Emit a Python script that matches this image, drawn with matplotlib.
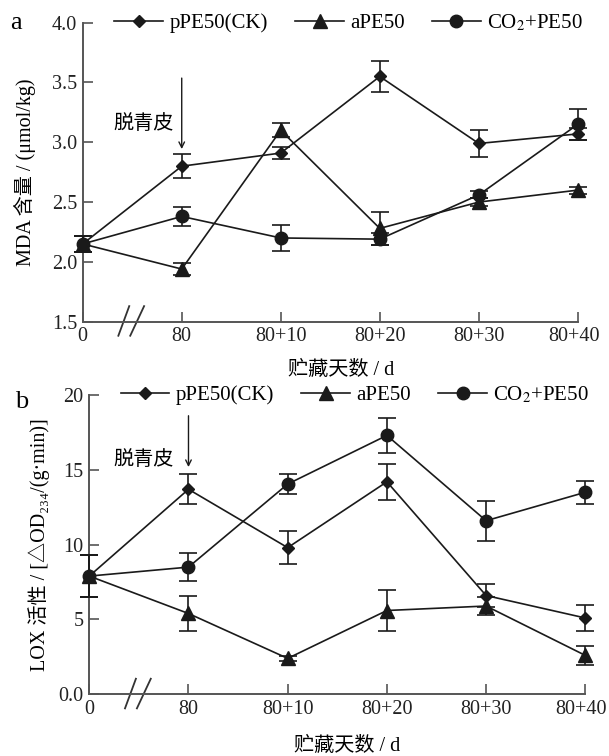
import matplotlib
matplotlib.use("Agg")
import matplotlib.pyplot as plt
import matplotlib.transforms as mtransforms

plt.rcParams['font.family'] = ['Liberation Serif', 'Noto Sans CJK SC', 'DejaVu Sans']
plt.rcParams['mathtext.fontset'] = 'stix'

days = ["0", "80", "80+10", "80+20", "80+30", "80+40"]
series_names = ["pPE50(CK)", "aPE50", "CO$_2$+PE50"]

# a: MDA content
mda_ck = [2.15, 2.80, 2.91, 3.55, 2.99, 3.07]
mda_ck_err = [0.07, 0.10, 0.05, 0.13, 0.11, 0.05]
mda_a = [2.15, 1.94, 3.10, 2.28, 2.50, 2.60]
mda_a_err = [0.07, 0.05, 0.06, 0.14, 0.03, 0.03]
mda_co2 = [2.15, 2.38, 2.20, 2.19, 2.56, 3.15]
mda_co2_err = [0.07, 0.08, 0.11, 0.05, 0.03, 0.13]

# b: LOX activity
lox_ck = [7.9, 13.7, 9.8, 14.2, 6.6, 5.1]
lox_ck_err = [1.4, 1.0, 1.1, 1.2, 0.75, 0.85]
lox_a = [7.9, 5.4, 2.4, 5.6, 5.9, 2.6]
lox_a_err = [1.4, 1.2, 0.15, 1.4, 0.6, 0.65]
lox_co2 = [7.9, 8.5, 14.05, 17.3, 11.6, 13.5]
lox_co2_err = [1.4, 0.93, 0.67, 1.15, 1.33, 0.78]

markers = ['D', '^', 'o']
msizes = [6, 10, 9]
fs = 14.5
lc = '#1a1a1a'

fig = plt.figure(figsize=(6.09, 7.56), dpi=100)
ax_a = fig.add_axes([0.1358, 0.5745, 0.813, 0.3955])
ax_b = fig.add_axes([0.1466, 0.0816, 0.8145, 0.3959])


def draw_panel(ax, vals, errs, ylim, yticks, yticklabels):
    x = list(range(len(days)))
    handles = []
    for v, e, m, ms in zip(vals, errs, markers, msizes):
        h = ax.errorbar(x, v, yerr=e, color=lc, marker=m, markersize=ms,
                        linewidth=1.2, elinewidth=1.2, capsize=6.5, capthick=1.2,
                        clip_on=False, zorder=3)
        handles.append(h.lines[0])
    ax.set_xlim(0, len(days) - 1)
    ax.set_ylim(*ylim)
    ax.set_xticks(x)
    ax.set_xticklabels(days)
    ax.set_yticks(yticks)
    ax.set_yticklabels(yticklabels)
    ax.tick_params(direction='in', length=7, width=1.2, colors='#555555',
                   labelcolor='#222222', labelsize=fs, pad=4)
    for s in ['top', 'right']:
        ax.spines[s].set_visible(False)
    for s in ['left', 'bottom']:
        ax.spines[s].set_color('#555555')
        ax.spines[s].set_linewidth(1.4)
    # axis break marks
    tr = mtransforms.blended_transform_factory(ax.transData, ax.transAxes)
    for x0, x1 in [(0.36, 0.47), (0.48, 0.62)]:
        ax.plot([x0, x1], [-0.047, 0.052], color='#333333', linewidth=1.3,
                transform=tr, clip_on=False)
    # last tick label nudged left a little, as in the original
    lab = ax.get_xticklabels()[-1]
    lab.set_transform(lab.get_transform() +
                      mtransforms.ScaledTranslation(-4 / 100, 0, fig.dpi_scale_trans))
    return handles


h = draw_panel(ax_a, [mda_ck, mda_a, mda_co2], [mda_ck_err, mda_a_err, mda_co2_err],
               (1.5, 4.0), [1.5, 2.0, 2.5, 3.0, 3.5, 4.0],
               ["1.5", "2.0", "2.5", "3.0", "3.5", "4.0"])
ax_a.legend(h, series_names, loc='center left', bbox_to_anchor=(0.064, 1.0),
            ncol=3, frameon=False, fontsize=fs + 0.5, handlelength=2.35,
            handletextpad=0.3, columnspacing=1.3, borderpad=0, borderaxespad=0)
ax_a.set_ylabel("MDA 含量 / (μmol/kg)", fontsize=fs)
ax_a.yaxis.set_label_coords(-0.1165, 0.5)
ax_a.yaxis.label.set_va('center')
ax_a.set_xlabel("贮藏天数 / d", fontsize=fs)
ax_a.xaxis.set_label_coords(0.521, -0.1615)
ax_a.xaxis.label.set_va('center')
ax_a.annotate("", xy=(1, 2.92), xytext=(1, 3.56),
              arrowprops=dict(arrowstyle='->', color=lc, lw=1.0))
ax_a.text(0.616, 3.145, "脱青皮", fontsize=fs, ha='center', va='center')
fig.text(15.5 / 609, 1 - 23 / 756, "a", fontsize=19, ha='center', va='center')

h = draw_panel(ax_b, [lox_ck, lox_a, lox_co2], [lox_ck_err, lox_a_err, lox_co2_err],
               (0, 20), [0, 5, 10, 15, 20], ["0.0", "5", "10", "15", "20"])
ax_b.legend(h, series_names, loc='center left', bbox_to_anchor=(0.063, 1.0),
            ncol=3, frameon=False, fontsize=fs + 0.5, handlelength=2.35,
            handletextpad=0.3, columnspacing=1.3, borderpad=0, borderaxespad=0)
ax_b.set_ylabel("LOX 活性 / [△OD₂₃₄/(g·min)]", fontsize=fs)
ax_b.yaxis.set_label_coords(-0.102, 0.5)
ax_b.yaxis.label.set_va('center')
ax_b.set_xlabel("贮藏天数 / d", fontsize=fs)
ax_b.xaxis.set_label_coords(0.519, -0.175)
ax_b.xaxis.label.set_va('center')
ax_b.annotate("", xy=(1, 15.0), xytext=(1, 18.8),
              arrowprops=dict(arrowstyle='->', color=lc, lw=1.0))
ax_b.text(0.548, 15.6, "脱青皮", fontsize=fs, ha='center', va='center')
fig.text(21.4 / 609, 1 - 401.7 / 756, "b", fontsize=19, ha='center', va='center')

fig.savefig("out.png", dpi=100)
